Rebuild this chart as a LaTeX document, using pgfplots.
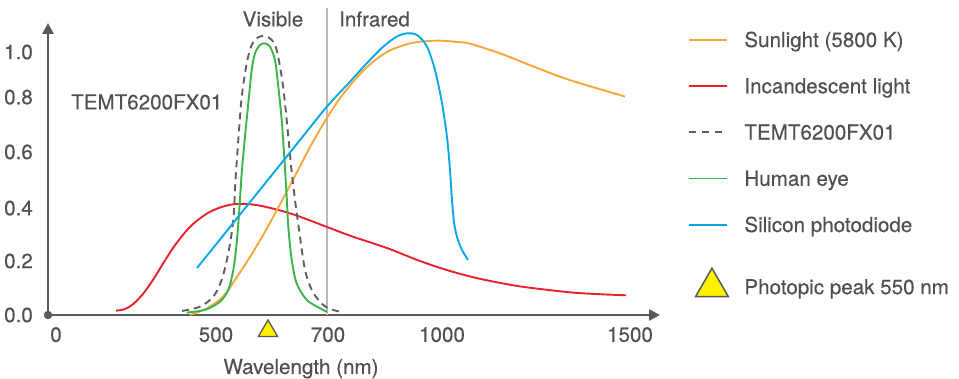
\documentclass[border=0pt]{standalone}
\usepackage{fontspec}
\setmainfont[FakeBold=0.3]{TeX Gyre Heros}
\usepackage{pgfplots}
\pgfplotsset{compat=1.18}
\usetikzlibrary{arrows.meta}
\definecolor{txtgray}{HTML}{505050}
\definecolor{axgray}{HTML}{5A5A5A}
\definecolor{sunorange}{HTML}{F7A83A}
\definecolor{incred}{HTML}{E8222C}
\definecolor{eyegreen}{HTML}{3BB54A}
\definecolor{siblue}{HTML}{0AA8E4}
\definecolor{temtgray}{HTML}{5F5F5F}
\definecolor{vlinegray}{HTML}{BBBBBB}
\definecolor{triyellow}{HTML}{FFF200}
\newcommand{\chartfont}{\fontsize{20.6bp}{24bp}\selectfont}
\pgfplotsset{
  legline/.style={legend image code/.code={\draw[##1] (0bp,0bp) -- (38bp,0bp);}},
  legtri/.style={legend image code/.code={\path (0bp,0bp) (0bp,23bp); \draw[##1] plot coordinates {(23bp,-0.25bp)};}},
}
\begin{document}
\begin{tikzpicture}[font=\chartfont, text=txtgray]
\begin{axis}[
  at={(0,0)}, anchor=south west,
  width=612bp, height=292bp, scale only axis,
  xmin=48, xmax=660, ymin=0, ymax=1.0815,
  axis lines=left,
  axis line style={draw=axgray, line width=2.5bp, -{Triangle[length=11bp,width=11bp]}},
  clip=false,
  xtick={56,216,328,442,630},
  xticklabels={0,500,700,1000,1500},
  ytick={0,0.2,0.396,0.604,0.807,0.974},
  yticklabels={0.0,0.2,0.4,0.6,0.8,1.0},
  major tick length=0pt,
  tick style={draw=none},
  /pgf/number format/assume math mode=true,
  xticklabel style={anchor=north, inner sep=0pt, yshift=-12bp, text=txtgray, font=\chartfont},
  yticklabel style={anchor=east, inner sep=0pt, xshift=-15bp, text=txtgray, font=\chartfont},
  legend cell align=left,
  legend style={at={(axis cs:688,1.0463)}, anchor=north west, draw=none, fill=none,
    inner sep=0pt, outer sep=0pt, row sep=31.75bp, font=\chartfont,
    nodes={inner sep=0pt, text height=14.5bp, text depth=0pt, text=txtgray},
    /tikz/every odd column/.append style={column sep=16bp}},
]
% legend
\addlegendimage{legline, sunorange, line width=1.9bp}
\addlegendentry{Sunlight (5800 K)}
\addlegendimage{legline, incred, line width=1.9bp}
\addlegendentry{Incandescent light}
\addlegendimage{legline, temtgray, line width=1.9bp, dash pattern=on 7bp off 6bp}
\addlegendentry{TEMT6200FX01}
\addlegendimage{legline, eyegreen, line width=1.9bp}
\addlegendentry{Human eye}
\addlegendimage{legline, siblue, line width=1.9bp}
\addlegendentry{Silicon photodiode}
\addlegendimage{legtri, only marks, mark=triangle*, mark size=19bp, mark options={fill=triyellow, draw=axgray, line width=1.5bp}}
\addlegendentry{Photopic peak 550 nm}

% visible / infrared divider
\addplot[forget plot, vlinegray, line width=1.5bp] coordinates {(327,0) (327,1.137)};

% Incandescent light
\addplot[forget plot, incred, line width=1.9bp, smooth] coordinates {
(116,0.016)(125,0.022)(133,0.040)(143,0.078)(153,0.130)(163,0.190)(173,0.248)(183,0.297)
(193,0.337)(207,0.376)(220,0.398)(233,0.410)(247,0.411)(260,0.405)(273,0.394)(287,0.380)
(300,0.364)(313,0.346)(327,0.326)(353,0.290)(387,0.248)(420,0.200)(450,0.163)(480,0.134)
(520,0.106)(570,0.084)(600,0.077)(626,0.073)};

% Sunlight
\addplot[forget plot, sunorange, line width=1.9bp, smooth] coordinates {
(190,0.0)(207,0.025)(223,0.068)(235,0.130)(250,0.215)(265,0.308)(280,0.410)(295,0.515)
(310,0.622)(325,0.718)(340,0.803)(357,0.880)(373,0.938)(390,0.980)(410,1.006)(425,1.014)
(440,1.016)(455,1.012)(470,1.005)(503,0.965)(537,0.915)(570,0.870)(625,0.809)};

% TEMT6200FX01
\addplot[forget plot, temtgray, line width=1.9bp, dash pattern=on 7bp off 5bp, smooth] coordinates {
(182,0.015)(200,0.031)(213.3,0.068)(221.7,0.130)(228.3,0.229)(233.3,0.352)(235.5,0.500)
(238.3,0.648)(241.7,0.807)(246.7,0.932)(251.7,1.000)(258.3,1.029)(265,1.033)(271.7,1.019)
(276.7,0.981)(281.7,0.883)(285,0.784)(288.3,0.660)(291.3,0.544)(295,0.426)(300,0.290)
(305,0.167)(311.7,0.093)(320,0.049)(328.3,0.025)(340,0.012)};

% Human eye
\addplot[forget plot, eyegreen, line width=1.9bp, smooth] coordinates {
(186.7,0.009)(200,0.015)(206.7,0.021)(220,0.049)(228.3,0.093)(233.3,0.167)(236.7,0.266)
(239.3,0.389)(241.7,0.526)(245,0.660)(248.3,0.784)(251.7,0.907)(255,0.969)(260,1.000)
(265,1.006)(270,0.994)(275,0.944)(278.3,0.846)(281.7,0.722)(284,0.600)(286.5,0.452)
(288.3,0.327)(291.7,0.204)(296.7,0.117)(306.7,0.056)(320,0.025)(326.7,0.012)};

% Silicon photodiode
\addplot[forget plot, siblue, line width=1.9bp, smooth] coordinates {
(197,0.174)(250,0.418)(300,0.648)(326.7,0.771)(350,0.864)(366.7,0.932)(383.3,0.994)
(396.7,1.031)(406.7,1.043)(417,1.037)(427,0.994)(435,0.907)(442,0.785)(447,0.659)
(450,0.537)(452,0.426)(454,0.344)(457,0.289)(462,0.241)(468,0.204)};

% photopic peak marker
\addplot[forget plot, only marks, mark=triangle*, mark size=11bp,
  mark options={fill=triyellow, draw=axgray, line width=1.3bp}] coordinates {(268,-0.059)};
% origin dot
\addplot[forget plot, only marks, mark=*, mark size=4bp,
  mark options={fill=axgray, draw=axgray}] coordinates {(48,0)};

\node[anchor=center, inner sep=0pt] at (axis cs:273,1.096) {Visible};
\node[anchor=west, inner sep=0pt] at (axis cs:339,1.096) {Infrared};
\node[anchor=west, inner sep=0pt] at (axis cs:71,0.789) {TEMT6200FX01};
\node[anchor=base, inner sep=0pt] at (axis cs:301,-0.2185) {Wavelength (nm)};
\end{axis}
\pgfresetboundingbox
\path[use as bounding box] (-48bp,-64bp) rectangle (911bp,315bp);
\end{tikzpicture}
\end{document}
